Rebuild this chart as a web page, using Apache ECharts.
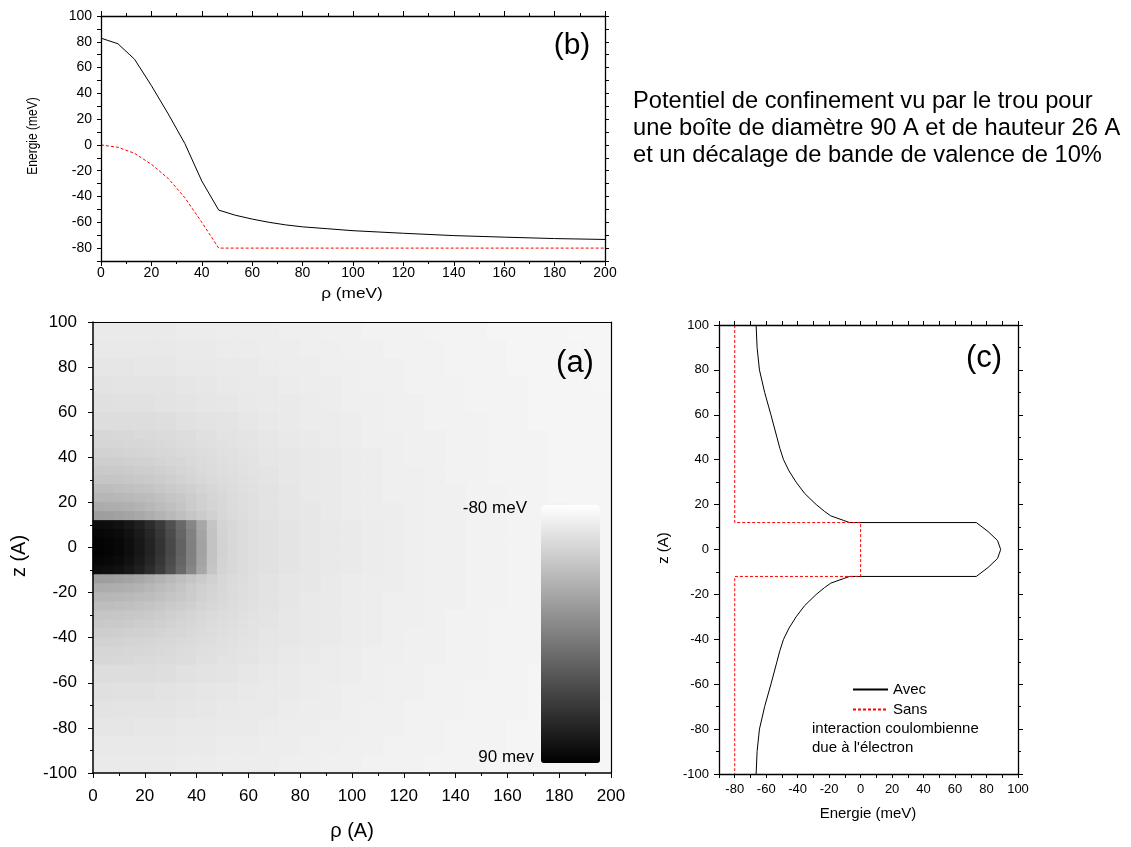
<!DOCTYPE html>
<html><head><meta charset="utf-8">
<script src="https://cdn.jsdelivr.net/npm/echarts@6/dist/echarts.min.js"></script>
<style>html,body{margin:0;padding:0;background:#fff}#c{width:1131px;height:847px}</style>
</head><body><div id="c"></div>
<script>
const FONT = "'Liberation Sans', Arial, Helvetica, sans-serif";

// ---------- panel (b): potential along rho at z = 0 ----------
const rhoBAvec    = [0, 6.7, 13.3, 20, 26.7, 33.3, 40, 46.7, 53.3, 60, 66.7, 73.3, 80, 90, 100, 120, 140, 160, 180, 200];
const energyBAvec = [82.8, 78.5, 66.5, 46, 24, 1, -28, -50.5, -54.5, -57.5, -60, -62, -63.5, -65, -66.5, -68.5, -70.3, -71.5, -72.6, -73.3];
const rhoBSans    = [0, 6.7, 13.3, 20, 26.7, 33.3, 40, 46.7, 200];
const energyBSans = [0, -1.8, -6.5, -15, -26, -41, -60, -80, -80];

// ---------- panel (c): potential along z at rho = 0 ----------
const energyCAvec = [-66.4, -65.8, -64.3, -61, -57, -53.2, -51.3, -49, -45.5, -41, -35.6, -28.2, -23, -19, -11, -7,
                     73.5, 81, 87, 89, 87, 81, 73.5,
                     -7, -11, -19, -23, -28.2, -35.6, -41, -45.5, -49, -51.3, -53.2, -57, -61, -64.3, -65.8, -66.4];
const zCAvec      = [100, 90, 80, 70, 60, 50, 45, 40, 35, 30, 25, 20, 17, 15, 13, 12,
                     12, 8, 4, 0, -4, -8, -12,
                     -12, -13, -15, -17, -20, -25, -30, -35, -40, -45, -50, -60, -70, -80, -90, -100];
const energyCSans = [-80, -80, 0, 0, -80, -80];
const zCSans      = [100, 12, 12, -12, -12, -100];

// ---------- panel (a): potential map V(rho, z) in meV (coarse, 8 A cells) ----------
const rhoCells = [4, 12, 20, 28, 36, 44, 52, 60, 68, 76, 84, 92, 100, 108, 116, 124, 132, 140, 148, 156, 164, 172, 180, 188, 196];
const zCells   = [96, 88, 80, 72, 64, 56, 48, 40, 32, 24, 16, 8, 0, -8, -16, -24, -32, -40, -48, -56, -64, -72, -80, -88, -96];
const potential = [
  [-66,-66,-66,-66,-67,-67,-68,-68,-68,-69,-69,-70,-70,-71,-71,-71,-72,-72,-72,-73,-73,-73,-73,-74,-74],
  [-65,-65,-65,-65,-66,-66,-67,-67,-68,-68,-69,-69,-70,-70,-71,-71,-71,-72,-72,-72,-73,-73,-73,-73,-74],
  [-63,-63,-64,-64,-65,-65,-66,-66,-67,-68,-68,-69,-69,-70,-70,-71,-71,-72,-72,-72,-73,-73,-73,-73,-74],
  [-61,-62,-62,-62,-63,-64,-65,-66,-66,-67,-68,-68,-69,-70,-70,-71,-71,-71,-72,-72,-72,-73,-73,-73,-74],
  [-59,-60,-60,-61,-62,-63,-64,-65,-66,-66,-67,-68,-69,-69,-70,-70,-71,-71,-72,-72,-72,-73,-73,-73,-73],
  [-57,-57,-57,-58,-60,-61,-62,-64,-65,-66,-67,-67,-68,-69,-70,-70,-71,-71,-71,-72,-72,-73,-73,-73,-73],
  [-53,-54,-55,-56,-57,-59,-61,-62,-64,-65,-66,-67,-68,-69,-69,-70,-70,-71,-71,-72,-72,-72,-73,-73,-73],
  [-49,-50,-51,-53,-55,-57,-59,-61,-63,-64,-65,-66,-67,-68,-69,-70,-70,-71,-71,-72,-72,-72,-73,-73,-73],
  [-42,-43,-46,-49,-52,-55,-58,-60,-62,-64,-65,-66,-67,-68,-69,-69,-70,-71,-71,-72,-72,-72,-73,-73,-73],
  [-33,-35,-38,-42,-46,-51,-55,-59,-61,-63,-65,-66,-67,-68,-69,-69,-70,-70,-71,-71,-72,-72,-73,-73,-73],
  [-21,-23,-27,-32,-38,-46,-54,-58,-61,-63,-64,-66,-67,-68,-68,-69,-70,-70,-71,-71,-72,-72,-72,-73,-73],
  [ 84, 78, 66, 45, 10,-35,-52,-58,-60,-62,-64,-65,-66,-67,-68,-69,-70,-70,-71,-71,-72,-72,-72,-73,-73],
  [ 88, 82, 70, 48, 12,-33,-51,-57,-60,-62,-64,-65,-66,-67,-68,-69,-70,-70,-71,-71,-72,-72,-73,-73,-73],
  [ 84, 78, 66, 45, 10,-35,-52,-58,-60,-62,-64,-65,-66,-67,-68,-69,-70,-70,-71,-71,-72,-72,-72,-73,-73],
  [-21,-23,-27,-32,-38,-46,-54,-58,-61,-63,-64,-66,-67,-68,-68,-69,-70,-70,-71,-71,-72,-72,-72,-73,-73],
  [-33,-35,-38,-42,-46,-51,-55,-59,-61,-63,-65,-66,-67,-68,-69,-69,-70,-70,-71,-71,-72,-72,-73,-73,-73],
  [-42,-43,-46,-49,-52,-55,-58,-60,-62,-64,-65,-66,-67,-68,-69,-69,-70,-71,-71,-72,-72,-72,-73,-73,-73],
  [-49,-50,-51,-53,-55,-57,-59,-61,-63,-64,-65,-66,-67,-68,-69,-70,-70,-71,-71,-72,-72,-72,-73,-73,-73],
  [-53,-54,-55,-56,-57,-59,-61,-62,-64,-65,-66,-67,-68,-69,-69,-70,-70,-71,-71,-72,-72,-72,-73,-73,-73],
  [-57,-57,-57,-58,-60,-61,-62,-64,-65,-66,-67,-67,-68,-69,-70,-70,-71,-71,-71,-72,-72,-73,-73,-73,-73],
  [-59,-60,-60,-61,-62,-63,-64,-65,-66,-66,-67,-68,-69,-69,-70,-70,-71,-71,-72,-72,-72,-73,-73,-73,-73],
  [-61,-62,-62,-62,-63,-64,-65,-66,-66,-67,-68,-68,-69,-70,-70,-71,-71,-71,-72,-72,-72,-73,-73,-73,-74],
  [-63,-63,-64,-64,-65,-65,-66,-66,-67,-68,-68,-69,-69,-70,-70,-71,-71,-72,-72,-72,-73,-73,-73,-73,-74],
  [-65,-65,-65,-65,-66,-66,-67,-67,-68,-68,-69,-69,-70,-70,-71,-71,-71,-72,-72,-72,-73,-73,-73,-73,-74],
  [-66,-66,-66,-66,-67,-67,-68,-68,-68,-69,-69,-70,-70,-71,-71,-71,-72,-72,-72,-73,-73,-73,-73,-74,-74]
];

// ---------- panel (a): finer map near the dot (4 A cells, rho 0..64, z -48..48) ----------
const rhoFine = [2, 6, 10, 14, 18, 22, 26, 30, 34, 38, 42, 46, 50, 54, 58, 62];
const zFine   = [46, 42, 38, 34, 30, 26, 22, 18, 14, 10, 6, 2, -2, -6, -10, -14, -18, -22, -26, -30, -34, -38, -42, -46];
const potentialFine = [
  [-52.5,-52.5,-52.7,-53,-53.5,-54,-54.7,-55.4,-56.4,-57.4,-58.4,-59.3,-60.1,-61,-61.7,-62.5],
  [-50,-50.2,-50.6,-51.1,-51.8,-52.5,-53.3,-54.2,-55.2,-56.2,-57.3,-58.3,-59.3,-60.3,-61.2,-62],
  [-47.4,-47.6,-48,-48.6,-49.4,-50.3,-51.3,-52.4,-53.6,-54.9,-56.1,-57.4,-58.5,-59.5,-60.5,-61.4],
  [-44.2,-44.4,-44.9,-45.6,-46.5,-47.6,-48.9,-50.3,-51.9,-53.5,-55,-56.4,-57.7,-58.9,-60,-61],
  [-41,-41.3,-41.8,-42.5,-43.5,-44.8,-46.3,-48.2,-50.2,-52.1,-53.8,-55.5,-56.8,-58.2,-59.4,-60.4],
  [-36,-36.3,-37,-38,-39.3,-40.8,-42.6,-44.6,-46.7,-48.8,-51,-53.2,-55.2,-57,-58.5,-59.9],
  [-31,-31.3,-32,-33,-34.5,-36.3,-38.5,-41,-43.5,-46.2,-49,-51.8,-54.3,-56.5,-58.2,-59.6],
  [-24.5,-25,-26,-27.5,-29.5,-32,-35,-38,-41.5,-45,-48.5,-51.5,-54.3,-56.4,-58,-59.4],
  [-15,-15.7,-17,-19,-22,-25.5,-29.5,-33.5,-37.5,-41.5,-45.5,-49.5,-53.5,-55.8,-57.5,-59],
  [82,81,79,75,69,61,51,37,20,1,-21,-41,-51,-54,-56.5,-58.5],
  [86,85,83,79,73,65,54,40,23,4,-19,-40,-50.5,-54,-56.5,-58.5],
  [88,87,85,81,75,67,56,42,25,5,-18,-40,-50,-54,-56.5,-58.5],
  [88,87,85,81,75,67,56,42,25,5,-18,-40,-50,-54,-56.5,-58.5],
  [86,85,83,79,73,65,54,40,23,4,-19,-40,-50.5,-54,-56.5,-58.5],
  [82,81,79,75,69,61,51,37,20,1,-21,-41,-51,-54,-56.5,-58.5],
  [-15,-15.7,-17,-19,-22,-25.5,-29.5,-33.5,-37.5,-41.5,-45.5,-49.5,-53.5,-55.8,-57.5,-59],
  [-24.5,-25,-26,-27.5,-29.5,-32,-35,-38,-41.5,-45,-48.5,-51.5,-54.3,-56.4,-58,-59.4],
  [-31,-31.3,-32,-33,-34.5,-36.3,-38.5,-41,-43.5,-46.2,-49,-51.8,-54.3,-56.5,-58.2,-59.6],
  [-36,-36.3,-37,-38,-39.3,-40.8,-42.6,-44.6,-46.7,-48.8,-51,-53.2,-55.2,-57,-58.5,-59.9],
  [-41,-41.3,-41.8,-42.5,-43.5,-44.8,-46.3,-48.2,-50.2,-52.1,-53.8,-55.5,-56.8,-58.2,-59.4,-60.4],
  [-44.2,-44.4,-44.9,-45.6,-46.5,-47.6,-48.9,-50.3,-51.9,-53.5,-55,-56.4,-57.7,-58.9,-60,-61],
  [-47.4,-47.6,-48,-48.6,-49.4,-50.3,-51.3,-52.4,-53.6,-54.9,-56.1,-57.4,-58.5,-59.5,-60.5,-61.4],
  [-50,-50.2,-50.6,-51.1,-51.8,-52.5,-53.3,-54.2,-55.2,-56.2,-57.3,-58.3,-59.3,-60.3,-61.2,-62],
  [-52.5,-52.5,-52.7,-53,-53.5,-54,-54.7,-55.4,-56.4,-57.4,-58.4,-59.3,-60.1,-61,-61.7,-62.5]
];
const fineRhoRange = [0, 64];
const fineZRange   = [-48, 48];

const colorMin = -80, colorMax = 90;
const colorbarLabels = ['-80 meV', '90 mev'];

// tick labels shown on the -90..100 axes
const majorTicks = [-80, -60, -40, -20, 0, 20, 40, 60, 80, 100];

// ---------- build ----------
const zip = (a, b) => a.map((v, i) => [v, b[i]]);
function heat(rows, zList) {
  const up = zList.slice().reverse();
  const out = [];
  rows.forEach((row, i) => {
    const yi = up.indexOf(zList[i]);
    row.forEach((v, j) => out.push([j, yi, v]));
  });
  return out;
}

function vAxis(o) {
  return {
    type: 'value', gridIndex: o.grid, position: o.pos, min: o.min, max: o.max, interval: o.interval,
    z: 5,
    axisLine: { show: true, onZero: false, lineStyle: { color: '#000', width: o.lw || 1.3 } },
    axisTick: { show: o.ticks !== false, inside: false, length: o.tickLen || 5, lineStyle: { color: '#000', width: 1 } },
    minorTick: { show: !!o.minor, splitNumber: 2, length: 3, lineStyle: { color: '#000', width: 1 } },
    axisLabel: o.labels ? {
      show: true, margin: o.margin, fontSize: o.fs, fontFamily: FONT, color: '#000',
      formatter: o.fmt || (v => String(v))
    } : { show: false },
    splitLine: { show: false },
    minorSplitLine: { show: false }
  };
}
const fmtMajor = v => (majorTicks.indexOf(v) >= 0 ? String(v) : '');

function txt(text, x, y, size, o) {
  o = o || {};
  return {
    type: 'text', x: x, y: y, rotation: o.rot || 0, scaleX: o.sx || 1, scaleY: o.sy || 1, silent: true, z: 20,
    style: { text: text, fontSize: size, fontFamily: FONT, fill: '#000', align: o.align || 'center', verticalAlign: 'middle' }
  };
}

const chart = echarts.init(document.getElementById('c'), null, { renderer: 'canvas' });
chart.setOption({
  backgroundColor: '#ffffff',
  animation: false,
  grid: [
    { left: 101, top: 16, width: 504, height: 245, containLabel: false, outerBoundsMode: 'none' },
    { left: 93, top: 322, width: 518, height: 451, containLabel: false, outerBoundsMode: 'none' },
    { left: 719, top: 325, width: 299, height: 449, containLabel: false, outerBoundsMode: 'none' },
    { left: 93, top: 322, width: 100, height: 100, containLabel: false, outerBoundsMode: 'none' }
  ],
  xAxis: [
    vAxis({ grid: 0, pos: 'bottom', min: 0, max: 200, interval: 20, minor: true, labels: true, margin: 5, fs: 14 }),
    vAxis({ grid: 0, pos: 'top', min: 0, max: 200, interval: 20, minor: true, labels: false }),
    vAxis({ grid: 1, pos: 'bottom', min: 0, max: 200, interval: 20, minor: true, labels: true, margin: 15, fs: 17, lw: 1.5 }),
    vAxis({ grid: 1, pos: 'top', min: 0, max: 200, interval: 20, ticks: false, labels: false, lw: 1.2 }),
    { type: 'category', gridIndex: 1, data: rhoCells.map(String), show: false },
    vAxis({ grid: 2, pos: 'bottom', min: -90, max: 100, interval: 10, tickLen: 4, labels: true, margin: 9, fs: 13, fmt: fmtMajor }),
    vAxis({ grid: 2, pos: 'top', min: -90, max: 100, interval: 10, tickLen: 4, labels: false }),
    { type: 'category', gridIndex: 3, data: rhoFine.map(String), show: false }
  ],
  yAxis: [
    vAxis({ grid: 0, pos: 'left', min: -90, max: 100, interval: 10, tickLen: 4, labels: true, margin: 9, fs: 14, fmt: fmtMajor }),
    vAxis({ grid: 0, pos: 'right', min: -90, max: 100, interval: 10, tickLen: 4, labels: false }),
    vAxis({ grid: 1, pos: 'left', min: -100, max: 100, interval: 20, minor: true, labels: true, margin: 16, fs: 17, lw: 1.5 }),
    vAxis({ grid: 1, pos: 'right', min: -100, max: 100, interval: 20, ticks: false, labels: false, lw: 1.2 }),
    { type: 'category', gridIndex: 1, data: zCells.slice().reverse().map(String), show: false },
    vAxis({ grid: 2, pos: 'left', min: -100, max: 100, interval: 20, minor: true, labels: true, margin: 10, fs: 13 }),
    vAxis({ grid: 2, pos: 'right', min: -100, max: 100, interval: 20, minor: true, labels: false }),
    { type: 'category', gridIndex: 3, data: zFine.slice().reverse().map(String), show: false }
  ],
  visualMap: [{
    type: 'continuous', seriesIndex: [2, 5], min: colorMin, max: colorMax, inverse: true,
    calculable: false, hoverLink: false, orient: 'vertical',
    left: 541, top: 505, itemWidth: 59, itemHeight: 258, padding: 0,
    inRange: { color: ['#ffffff', '#000000'] },
    textStyle: { color: 'transparent', fontSize: 1 }
  }],
  legend: {
    data: ['Avec', 'Sans'], orient: 'vertical', left: 852, top: 682, padding: 0,
    itemWidth: 35, itemHeight: 14, itemGap: 5, selectedMode: false,
    itemStyle: { opacity: 0 },
    textStyle: { fontSize: 15, fontFamily: FONT, color: '#000' }
  },
  series: [
    { name: 'b-avec', type: 'line', xAxisIndex: 0, yAxisIndex: 0, data: zip(rhoBAvec, energyBAvec),
      symbol: 'none', silent: true, lineStyle: { color: '#000', width: 1 }, z: 3 },
    { name: 'b-sans', type: 'line', xAxisIndex: 0, yAxisIndex: 0, data: zip(rhoBSans, energyBSans),
      symbol: 'none', silent: true, lineStyle: { color: '#ff0000', width: 1, type: [3, 2] }, z: 3 },
    { name: 'map', type: 'heatmap', xAxisIndex: 4, yAxisIndex: 4, data: heat(potential, zCells), silent: true, z: 1,
      itemStyle: { borderWidth: 0 } },
    { name: 'Avec', type: 'line', xAxisIndex: 5, yAxisIndex: 5, data: zip(energyCAvec, zCAvec),
      symbol: 'none', silent: true, lineStyle: { color: '#000', width: 1 }, itemStyle: { color: '#000' }, z: 3 },
    { name: 'Sans', type: 'line', xAxisIndex: 5, yAxisIndex: 5, data: zip(energyCSans, zCSans),
      symbol: 'none', silent: true, lineStyle: { color: '#ff0000', width: 1, type: [3, 2] }, itemStyle: { color: '#ff0000' }, z: 3 },
    { name: 'map-fine', type: 'heatmap', xAxisIndex: 7, yAxisIndex: 7, data: heat(potentialFine, zFine), silent: true, z: 1,
      itemStyle: { borderWidth: 0 } }
  ],
  graphic: [
    // panel (b)
    txt('(b)', 572, 46, 30),
    txt('ρ (meV)', 352, 294, 14, { sx: 1.23 }),
    txt('Energie (meV)', 33, 136, 12, { rot: Math.PI / 2, sy: 1.25 }),
    // panel (a)
    txt('(a)', 575, 363, 31),
    txt('ρ (A)', 352, 831, 20),
    txt('z (A)', 19, 556, 20, { rot: Math.PI / 2 }),
    txt(colorbarLabels[0], 527, 508, 17, { align: 'right' }),
    txt(colorbarLabels[1], 534, 757, 17, { align: 'right' }),
    // panel (c)
    txt('(c)', 984, 358, 31),
    txt('Energie (meV)', 868, 814, 15),
    txt('z (A)', 664, 548, 15, { rot: Math.PI / 2 }),
    txt('interaction coulombienne', 812, 729, 15, { align: 'left' }),
    txt("due à l'électron", 812, 748, 15, { align: 'left' }),
    // caption
    txt('Potentiel de confinement vu par le trou pour', 633, 101, 23.7, { align: 'left' }),
    txt('une boîte de diamètre 90 A et de hauteur 26 A', 633, 128, 23.7, { align: 'left' }),
    txt('et un décalage de bande de valence de 10%', 633, 155, 23.7, { align: 'left' })
  ]
});

// place the fine-map grid exactly over its data range using panel (a)'s value axes
const pA = chart.convertToPixel({ xAxisIndex: 2, yAxisIndex: 2 }, [fineRhoRange[0], fineZRange[1]]);
const pB = chart.convertToPixel({ xAxisIndex: 2, yAxisIndex: 2 }, [fineRhoRange[1], fineZRange[0]]);
chart.setOption({
  grid: [{}, {}, {}, { left: pA[0], top: pA[1], width: pB[0] - pA[0], height: pB[1] - pA[1] }]
});
</script>
</body></html>
